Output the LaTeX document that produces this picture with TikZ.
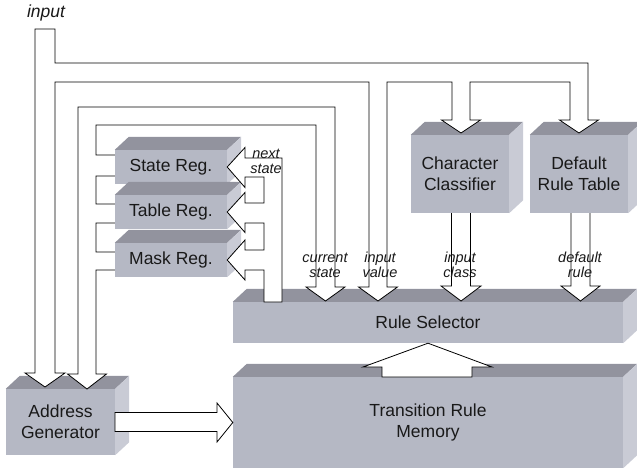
\documentclass[tikz,border=0pt]{standalone}
\usepackage{fontspec}
\setmainfont{Liberation Sans}
\usetikzlibrary{calc}
\definecolor{facefront}{RGB}{181,184,196}
\definecolor{facetop}{RGB}{146,147,158}
\definecolor{faceside}{RGB}{201,203,213}
\tikzset{
  cube/.style={fill=facefront, inner sep=0pt, align=center, text=black!90,
    font=\fontsize{17.5}{21}\selectfont},
  fat/.style={draw=black, fill=white, line width=0.8pt, line join=miter},
  lbl/.style={inner sep=0pt, align=center, text=black!90,
    font=\fontsize{14.5}{15}\selectfont\itshape},
}
\begin{document}
\begin{tikzpicture}[x=1pt, y=-1pt]
  \useasboundingbox (0,0) rectangle (637,468);
  % blocks
  \node[cube, minimum width=109pt, minimum height=66pt] (addr) at (60.5,422) {Address\\Generator};
  \node[cube, minimum width=390pt, minimum height=41pt] (rsel) at (428,322.5) {Rule Selector};
  \node[cube, minimum width=390pt, minimum height=91pt] (trm) at (428,422.5) {Transition Rule\\Memory};
  \node[cube, minimum width=98pt, minimum height=78pt] (cc) at (460,174) {Character\\Classifier};
  \node[cube, minimum width=98pt, minimum height=78pt] (drt) at (579,174) {Default\\Rule Table};
  \foreach \n in {addr,rsel,trm,cc,drt}{
    \fill[facetop] (\n.north west) -- ++(14,-13) -- ($(\n.north east)+(14,-13)$) -- (\n.north east) -- cycle;
    \fill[faceside] (\n.north east) -- ++(14,-13) -- ($(\n.south east)+(14,-13)$) -- (\n.south east) -- cycle;
  }
  % input class and default rule
  \draw[fat] (451.5,213) -- (451.5,286) -- (441,286) -- (461,301) -- (481,286) -- (470.5,286) -- (470.5,213);
  \draw[fat] (571,213) -- (571,286) -- (561,286) -- (580.5,301) -- (600,286) -- (590,286) -- (590,213);
  % input
  \draw[fat] (35,29) -- (55,29) -- (55,63) -- (588,63) -- (588,120) -- (598.5,120) -- (579,133)
    -- (559.5,120) -- (570,120) -- (570,82) -- (470,82) -- (470,120) -- (480.5,120) -- (461,133)
    -- (441.5,120) -- (452,120) -- (452,82) -- (387,82) -- (387,287) -- (397.5,287) -- (378,301)
    -- (358.5,287) -- (369,287) -- (369,82) -- (55,82) -- (55,373) -- (65,373) -- (45,387)
    -- (25,373) -- (35,373) -- cycle;
  % current state
  \draw[fat] (78,374) -- (78,107) -- (335,107) -- (335,287) -- (345,287) -- (325.5,301) -- (306,287)
    -- (316,287) -- (316,125) -- (96,125) -- (96,155) -- (118,155) -- (118,176) -- (96,176)
    -- (96,204) -- (118,204) -- (118,223) -- (96,223) -- (96,252) -- (118,252) -- (118,270)
    -- (96,270) -- (96,374) -- (106.5,374) -- (87,389) -- (67.5,374) -- cycle;
  % registers
  \foreach \n/\yc/\t in {statereg/167/State Reg., tablereg/212/Table Reg., maskreg/260/Mask Reg.}{
    \node[cube, minimum width=112pt, minimum height=34pt] (\n) at (171,\yc) {\t};
    \fill[facetop] (\n.north west) -- ++(14,-13) -- ($(\n.north east)+(14,-13)$) -- (\n.north east) -- cycle;
    \fill[faceside] (\n.north east) -- ++(14,-13) -- ($(\n.south east)+(14,-13)$) -- (\n.south east) -- cycle;
  }
  % next state
  \draw[fat] (264,302) -- (282,302) -- (282,158) -- (245,158) -- (245,147.5) -- (statereg.east)
    -- (245,187.5) -- (245,177) -- (264,177) -- (264,203) -- (245,203) -- (245,192.5) -- (tablereg.east)
    -- (245,232.5) -- (245,223) -- (264,223) -- (264,250) -- (245,250) -- (245,240) -- (maskreg.east)
    -- (245,280) -- (245,270) -- (264,270) -- cycle;
  % memory to selector, generator to memory
  \draw[fat] (382,377) -- (382,367) -- (363,367) -- (rsel.south) -- (492,367) -- (472,367) -- (472,377) -- cycle;
  \draw[fat] (115,412.5) -- (217,412.5) -- (217,403) -- (trm.west) -- (217,442) -- (217,431.5) -- (115,431.5) -- cycle;
  % labels
  \node[lbl, font=\fontsize{17.5}{21}\selectfont\itshape] (inlbl) at (46,13) {input};
  \node[lbl] (nextlbl) at (266,161) {next\\state};
  \node[lbl] (curlbl) at (325,265) {current\\state};
  \node[lbl] (vallbl) at (380,265) {input\\value};
  \node[lbl] (classlbl) at (460,265) {input\\class};
  \node[lbl] (deflbl) at (580,265) {default\\rule};
\end{tikzpicture}
\end{document}
